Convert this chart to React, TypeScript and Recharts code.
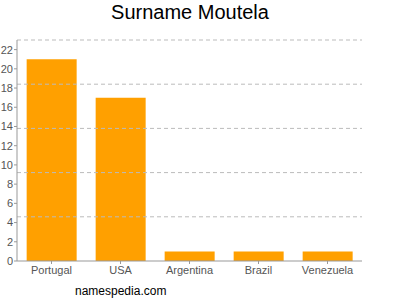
import { BarChart, Bar, XAxis, YAxis, ReferenceLine } from 'recharts';

const countries = ['Portugal', 'USA', 'Argentina', 'Brazil', 'Venezuela'];
const counts = [21, 17, 1, 1, 1];
const yTicks = [0, 2, 4, 6, 8, 10, 12, 14, 16, 18, 20, 22];
const gridLevels = [4.6, 9.2, 13.8, 18.4, 23];

const data = countries.map((name, i) => ({ name, count: counts[i] }));

const font = 'Arial, "Liberation Sans", sans-serif';

export default function App() {
  return (
    <div style={{ position: 'absolute', left: 0, top: 0, width: 400, height: 300, fontFamily: font, background: '#fff' }}>
      <div style={{ position: 'absolute', top: 1, width: 380, textAlign: 'center', fontSize: 20, color: '#000' }}>
        Surname Moutela
      </div>
      <BarChart
        width={400}
        height={300}
        data={data}
        margin={{ top: 40, right: 38, left: 0, bottom: 19 }}
        barCategoryGap="14%"
      >
        {gridLevels.map((v) => (
          <ReferenceLine key={v} y={v} stroke="#bbb" strokeDasharray="4 3" ifOverflow="visible" />
        ))}
        <XAxis
          dataKey="name"
          stroke="#999"
          tickSize={3}
          height={20}
          tick={{ fill: '#555', fontSize: 11, fontFamily: font }}
        />
        <YAxis
          width={17}
          domain={[0, 23]}
          ticks={yTicks}
          interval={0}
          stroke="#999"
          tickSize={3}
          tickMargin={1}
          tick={{ fill: '#555', fontSize: 11, fontFamily: font }}
        />
        <Bar dataKey="count" fill="#ffa000" isAnimationActive={false} />
      </BarChart>
      <div style={{ position: 'absolute', top: 284, left: 75, fontSize: 12, color: '#000' }}>
        namespedia.com
      </div>
    </div>
  );
}
